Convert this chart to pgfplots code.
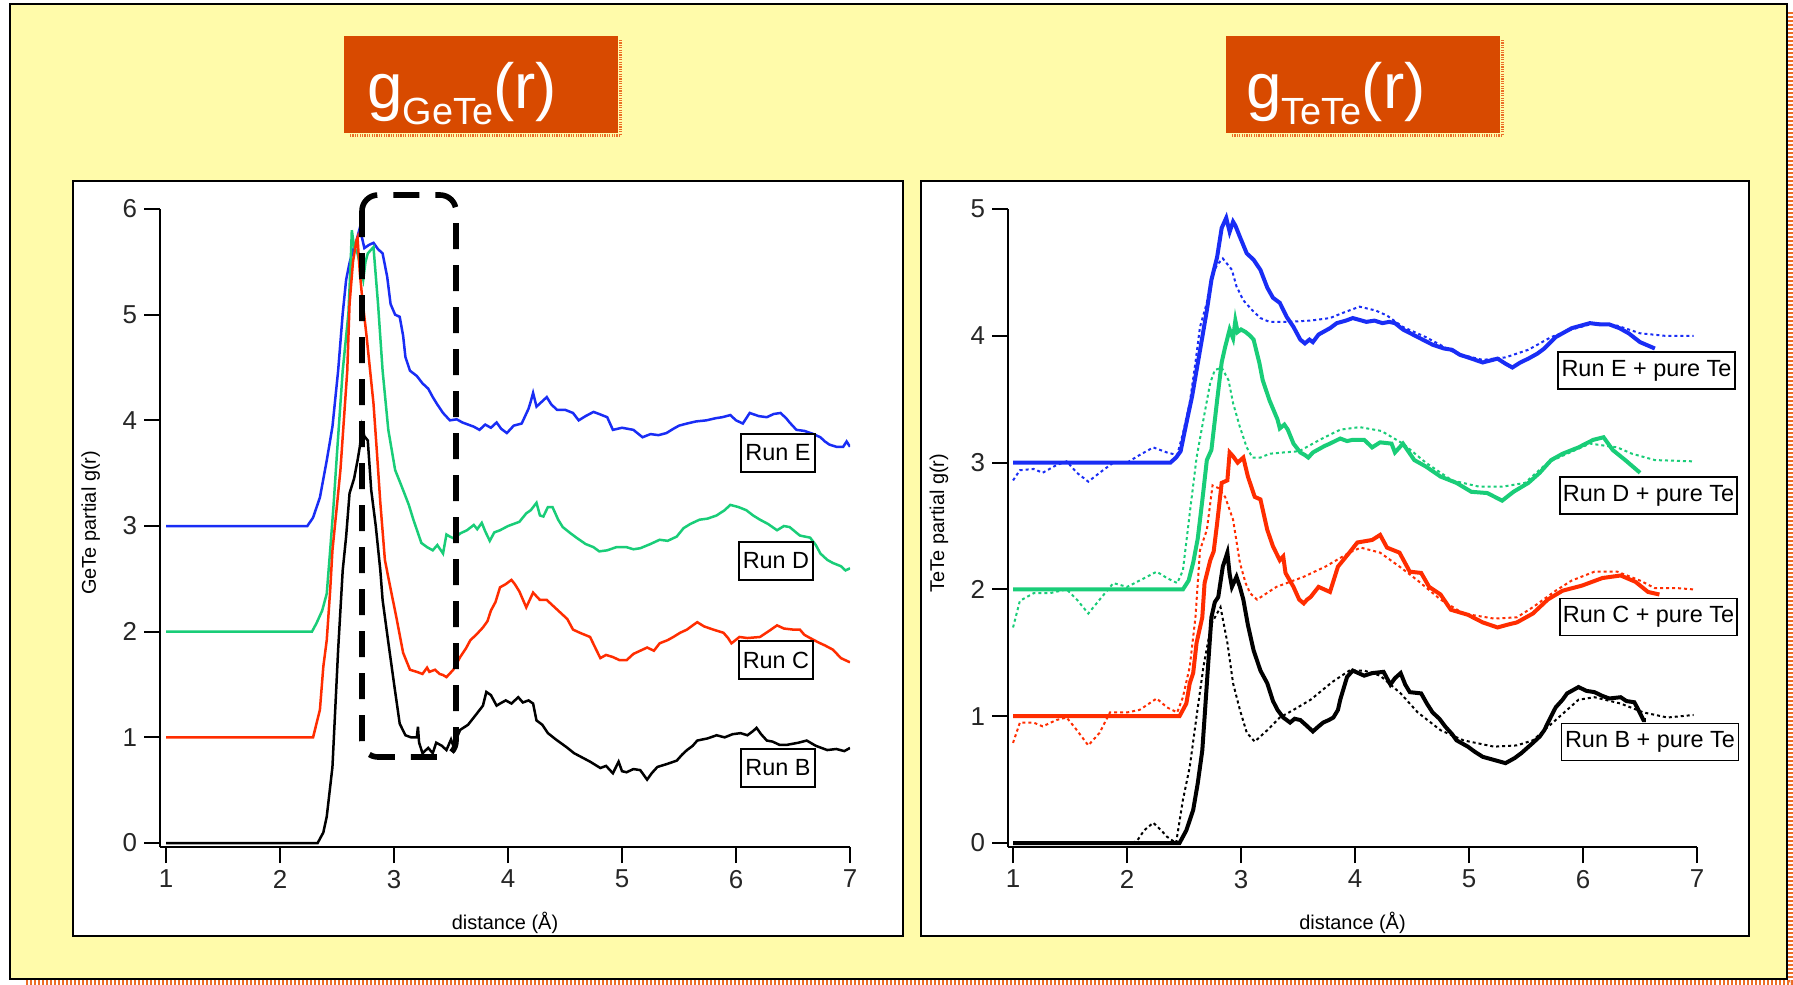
\documentclass[border=0pt]{standalone}
\usepackage{pgfplots}
\pgfplotsset{compat=1.18}
\usepackage{fontspec}
\setmainfont{Liberation Sans}
\definecolor{bgyellow}{RGB}{255,251,170}
\definecolor{titleorange}{RGB}{216,74,0}
\definecolor{shadoworange}{RGB}{235,110,40}
\definecolor{cblue}{RGB}{25,45,245}
\definecolor{cgreen}{RGB}{25,205,120}
\definecolor{cred}{RGB}{255,45,0}
\pgfplotsset{
  gstyle/.style={
    scale only axis, enlargelimits=false,
    axis x line=bottom, axis y line=left,
    axis line style={-, line width=1bp, black},
    xtick={1,2,3,4,5,6,7},
    tick align=outside, major tick length=8bp,
    tick style={line width=1bp, black},
    /pgf/number format/assume math mode=true,
    ticklabel style={font=\fontsize{13}{13}\selectfont, text=black!85},
    label style={font=\fontsize{11}{11}\selectfont},
    every axis x label/.style={at={(axis description cs:0.5,-0.130)}, anchor=base},
    every axis y label/.style={at={(axis description cs:-0.0928,0.508)}, rotate=90, anchor=base},
    xlabel={distance (Å)},
  },
}
\tikzset{legbox/.style={draw, fill=white, line width=0.75bp, inner sep=0pt, font=\fontsize{11.75}{12}\selectfont},
  px/.style={x=0.5bp,y=-0.5bp}}
\begin{document}
\begin{tikzpicture}
\begin{scope}[px]
\useasboundingbox (0,0) rectangle (1793,984);
% outer frame
\draw[shadoworange, line width=2.5bp, dash pattern=on 1bp off 1bp] (1790.5,12) -- (1790.5,982) -- (25,982);
\draw[fill=bgyellow, line width=1bp] (10,4) rectangle (1787,979);
% title boxes
\draw[shadoworange, line width=1.5bp, dash pattern=on 0.6bp off 0.6bp] (620.5,40) -- (620.5,135.5) -- (349,135.5);
\fill[titleorange] (344,36) rectangle (618,133);
\node[anchor=base west, text=white, inner sep=0pt, font=\fontsize{32}{32}\selectfont] at (367,108) {g\raisebox{-8bp}{\fontsize{19}{19}\selectfont GeTe}(r)};
\draw[shadoworange, line width=1.5bp, dash pattern=on 0.6bp off 0.6bp] (1502.5,40) -- (1502.5,135.5) -- (1231,135.5);
\fill[titleorange] (1226,36) rectangle (1500,133);
\node[anchor=base west, text=white, inner sep=0pt, font=\fontsize{32}{32}\selectfont] at (1246,108) {g\raisebox{-8bp}{\fontsize{19}{19}\selectfont TeTe}(r)};
% panels
\draw[fill=white, line width=1bp] (73,181) rectangle (903,936);
\draw[fill=white, line width=1bp] (921,181) rectangle (1749,936);
\end{scope}

% ---------------- left: GeTe ----------------
\begin{axis}[gstyle, at={(80bp,-423.5bp)}, anchor=south west,
  width=345bp, height=319bp,
  xmin=0.9474, xmax=7, ymin=-0.0378, ymax=6,
  ytick={0,1,2,3,4,5,6},
  ylabel={GeTe partial g(r)}]
\addplot[cblue, line width=1.25bp] coordinates {
(1,3) (2.24,3) (2.29,3.08) (2.35,3.27) (2.41,3.62) (2.46,3.94) (2.51,4.47) (2.55,5.01) (2.58,5.33) (2.61,5.49) (2.64,5.61) (2.67,5.7) (2.7,5.82) (2.74,5.63) (2.78,5.66) (2.82,5.68) (2.86,5.62) (2.9,5.58) (2.94,5.36) (2.97,5.1) (3.01,5.0) (3.05,4.98) (3.08,4.8) (3.1,4.6) (3.14,4.47) (3.2,4.42) (3.25,4.35) (3.3,4.3) (3.34,4.22) (3.38,4.15) (3.43,4.07) (3.49,4.0) (3.55,4.01) (3.6,3.98) (3.65,3.96) (3.7,3.94) (3.75,3.91) (3.8,3.96) (3.85,3.93) (3.9,3.98) (3.94,3.92) (3.99,3.88) (4.05,3.95) (4.12,3.97) (4.18,4.11) (4.2,4.18) (4.22,4.26) (4.25,4.13) (4.3,4.18) (4.34,4.22) (4.38,4.15) (4.43,4.1) (4.5,4.1) (4.57,4.07) (4.62,4.0) (4.68,4.04) (4.75,4.08) (4.8,4.06) (4.87,4.03) (4.92,3.91) (5.0,3.93) (5.1,3.91) (5.18,3.84) (5.25,3.87) (5.32,3.86) (5.39,3.88) (5.45,3.92) (5.5,3.95) (5.57,3.97) (5.65,3.99) (5.74,4.0) (5.82,4.02) (5.88,4.03) (5.95,4.05) (6.0,4.0) (6.06,3.97) (6.12,4.07) (6.2,4.04) (6.27,4.03) (6.33,4.06) (6.39,4.07) (6.44,4.02) (6.47,3.98) (6.53,3.91) (6.6,3.9) (6.68,3.87) (6.74,3.84) (6.78,3.8) (6.82,3.77) (6.88,3.75) (6.94,3.75) (6.97,3.8) (7.0,3.75)};
\addplot[cgreen, line width=1.25bp] coordinates {
(1,2) (2.28,2) (2.32,2.08) (2.37,2.2) (2.41,2.36) (2.44,2.77) (2.47,3.2) (2.5,3.69) (2.55,4.47) (2.6,5.01) (2.62,5.5) (2.63,5.8) (2.65,5.64) (2.68,5.58) (2.73,5.33) (2.75,5.5) (2.77,5.58) (2.82,5.64) (2.86,5.1) (2.9,4.47) (2.95,3.91) (3.01,3.53) (3.08,3.34) (3.13,3.2) (3.17,3.06) (3.24,2.84) (3.29,2.8) (3.34,2.77) (3.38,2.82) (3.43,2.74) (3.46,2.92) (3.49,2.9) (3.53,2.88) (3.58,2.93) (3.64,2.96) (3.7,3.01) (3.73,2.97) (3.77,3.03) (3.8,2.95) (3.84,2.86) (3.88,2.94) (3.93,2.96) (4.0,3.0) (4.05,3.02) (4.1,3.04) (4.16,3.12) (4.2,3.15) (4.25,3.22) (4.28,3.1) (4.31,3.09) (4.35,3.18) (4.39,3.18) (4.44,3.06) (4.48,2.99) (4.55,2.93) (4.6,2.89) (4.68,2.83) (4.75,2.8) (4.8,2.76) (4.87,2.77) (4.95,2.8) (5.04,2.8) (5.1,2.78) (5.16,2.79) (5.25,2.83) (5.33,2.87) (5.4,2.86) (5.48,2.9) (5.54,2.98) (5.6,3.02) (5.68,3.06) (5.75,3.07) (5.83,3.1) (5.9,3.15) (5.95,3.2) (6.02,3.18) (6.09,3.15) (6.15,3.1) (6.21,3.06) (6.28,3.02) (6.36,2.96) (6.42,3.0) (6.47,2.99) (6.56,2.91) (6.65,2.89) (6.7,2.82) (6.74,2.74) (6.8,2.68) (6.85,2.65) (6.92,2.62) (6.96,2.58) (7.0,2.6)};
\addplot[cred, line width=1.25bp] coordinates {
(1,1) (2.29,1) (2.35,1.26) (2.38,1.67) (2.41,1.92) (2.44,2.39) (2.46,2.77) (2.5,3.2) (2.53,3.53) (2.56,4.0) (2.59,4.47) (2.61,5.1) (2.64,5.5) (2.67,5.7) (2.68,5.73) (2.7,5.4) (2.72,5.17) (2.76,4.79) (2.82,4.16) (2.85,3.7) (2.88,3.22) (2.92,2.68) (2.96,2.46) (3.02,2.14) (3.08,1.8) (3.14,1.64) (3.2,1.62) (3.25,1.6) (3.29,1.66) (3.31,1.62) (3.36,1.64) (3.4,1.6) (3.43,1.59) (3.46,1.57) (3.52,1.64) (3.58,1.76) (3.63,1.84) (3.67,1.92) (3.72,1.97) (3.78,2.04) (3.82,2.1) (3.85,2.2) (3.89,2.28) (3.93,2.42) (3.98,2.45) (4.03,2.49) (4.06,2.45) (4.1,2.38) (4.16,2.23) (4.19,2.3) (4.22,2.37) (4.28,2.3) (4.34,2.3) (4.4,2.24) (4.46,2.18) (4.52,2.12) (4.57,2.02) (4.63,1.99) (4.72,1.95) (4.76,1.86) (4.81,1.75) (4.86,1.78) (4.92,1.76) (4.98,1.73) (5.04,1.73) (5.1,1.79) (5.16,1.82) (5.22,1.85) (5.28,1.82) (5.33,1.89) (5.4,1.92) (5.45,1.95) (5.51,1.99) (5.57,2.02) (5.62,2.06) (5.66,2.09) (5.72,2.05) (5.8,2.02) (5.89,1.99) (5.93,1.94) (5.96,1.89) (6.03,1.95) (6.1,1.94) (6.21,1.95) (6.28,2.0) (6.36,2.06) (6.42,2.03) (6.5,2.02) (6.56,2.02) (6.6,1.97) (6.65,1.94) (6.72,1.9) (6.78,1.87) (6.85,1.83) (6.92,1.75) (7.0,1.71)};
\addplot[black, line width=1.25bp] coordinates {
(1,0) (2.33,0) (2.38,0.1) (2.41,0.25) (2.46,0.72) (2.51,1.83) (2.55,2.58) (2.58,2.9) (2.61,3.31) (2.65,3.45) (2.68,3.62) (2.7,3.75) (2.72,3.94) (2.74,3.85) (2.77,3.81) (2.8,3.34) (2.84,3.0) (2.88,2.58) (2.9,2.3) (2.95,1.9) (3.0,1.51) (3.05,1.13) (3.1,1.02) (3.15,1.0) (3.2,1.0) (3.21,1.1) (3.22,0.95) (3.25,0.85) (3.3,0.9) (3.34,0.85) (3.37,0.95) (3.42,0.92) (3.46,0.88) (3.5,0.98) (3.52,0.92) (3.58,1.07) (3.65,1.12) (3.73,1.23) (3.78,1.3) (3.81,1.43) (3.85,1.4) (3.9,1.3) (3.93,1.32) (3.98,1.35) (4.03,1.32) (4.09,1.38) (4.13,1.33) (4.18,1.35) (4.22,1.32) (4.25,1.16) (4.3,1.12) (4.35,1.04) (4.42,0.98) (4.51,0.91) (4.58,0.85) (4.65,0.81) (4.72,0.77) (4.81,0.71) (4.86,0.73) (4.92,0.66) (4.97,0.77) (5.0,0.68) (5.04,0.67) (5.1,0.7) (5.16,0.69) (5.22,0.6) (5.26,0.66) (5.31,0.72) (5.4,0.75) (5.48,0.78) (5.53,0.84) (5.57,0.88) (5.62,0.92) (5.66,0.97) (5.75,0.99) (5.83,1.02) (5.9,1.0) (5.97,1.03) (6.04,1.04) (6.1,1.02) (6.15,1.06) (6.18,1.09) (6.22,1.03) (6.27,0.97) (6.32,0.96) (6.38,0.93) (6.45,0.93) (6.55,0.95) (6.62,0.97) (6.7,0.92) (6.8,0.88) (6.88,0.89) (6.95,0.87) (7.0,0.9)};
\end{axis}

% ---------------- right: TeTe ----------------
\begin{axis}[gstyle, at={(504bp,-423.5bp)}, anchor=south west,
  width=344.5bp, height=319bp,
  xmin=0.956, xmax=7, ymin=-0.0315, ymax=5,
  ytick={0,1,2,3,4,5},
  ylabel={TeTe partial g(r)}]
\addplot[cblue, line width=1bp, dash pattern=on 1.5bp off 1.5bp] coordinates {
(1.0,2.86) (1.06,2.94) (1.18,2.95) (1.26,2.92) (1.38,2.98) (1.47,3.01) (1.56,2.92) (1.66,2.85) (1.76,2.92) (1.88,3.0) (2.0,3.0) (2.11,3.06) (2.23,3.12) (2.35,3.08) (2.44,3.06) (2.49,3.23) (2.55,3.47) (2.6,3.79) (2.64,4.07) (2.7,4.26) (2.74,4.47) (2.79,4.56) (2.84,4.61) (2.92,4.52) (2.96,4.39) (3.02,4.28) (3.1,4.2) (3.17,4.14) (3.25,4.11) (3.4,4.11) (3.61,4.12) (3.78,4.14) (3.89,4.18) (4.04,4.23) (4.18,4.2) (4.28,4.16) (4.42,4.07) (4.62,3.99) (4.89,3.86) (5.12,3.81) (5.32,3.83) (5.52,3.89) (5.72,3.99) (5.9,4.05) (6.1,4.1) (6.3,4.08) (6.5,4.02) (6.72,4.0) (6.97,4.0)};
\addplot[cblue, line width=2bp] coordinates {
(1,3) (2.38,3) (2.43,3.04) (2.47,3.09) (2.52,3.31) (2.57,3.52) (2.61,3.73) (2.66,3.99) (2.7,4.2) (2.74,4.44) (2.79,4.62) (2.83,4.85) (2.87,4.93) (2.9,4.82) (2.93,4.9) (2.95,4.87) (2.99,4.78) (3.05,4.65) (3.11,4.6) (3.17,4.52) (3.23,4.38) (3.28,4.3) (3.34,4.26) (3.4,4.15) (3.46,4.07) (3.52,3.97) (3.56,3.94) (3.6,3.97) (3.63,3.95) (3.68,4.01) (3.72,4.03) (3.78,4.06) (3.84,4.1) (3.92,4.12) (3.98,4.14) (4.1,4.11) (4.17,4.12) (4.24,4.1) (4.3,4.11) (4.35,4.1) (4.42,4.05) (4.55,3.99) (4.68,3.93) (4.78,3.9) (4.85,3.89) (4.92,3.85) (4.99,3.83) (5.12,3.79) (5.25,3.82) (5.32,3.78) (5.38,3.75) (5.45,3.79) (5.52,3.82) (5.6,3.86) (5.66,3.9) (5.76,3.99) (5.9,4.06) (6.06,4.1) (6.15,4.09) (6.23,4.09) (6.32,4.06) (6.4,4.02) (6.5,3.95) (6.63,3.9)};
\addplot[cgreen, line width=1bp, dash pattern=on 1.5bp off 1.5bp] coordinates {
(1.0,1.7) (1.06,1.91) (1.18,1.97) (1.32,1.97) (1.47,2.0) (1.56,1.92) (1.66,1.81) (1.76,1.92) (1.88,2.05) (2.0,2.02) (2.11,2.07) (2.26,2.14) (2.35,2.09) (2.44,2.05) (2.49,2.15) (2.55,2.6) (2.61,3.04) (2.67,3.34) (2.73,3.63) (2.77,3.73) (2.83,3.75) (2.89,3.65) (2.93,3.47) (2.99,3.28) (3.05,3.12) (3.1,3.04) (3.17,3.04) (3.25,3.07) (3.37,3.08) (3.51,3.09) (3.69,3.18) (3.87,3.26) (4.04,3.28) (4.23,3.25) (4.42,3.15) (4.62,3.0) (4.85,2.86) (5.09,2.81) (5.29,2.81) (5.49,2.84) (5.69,3.0) (5.86,3.07) (6.06,3.15) (6.3,3.12) (6.43,3.07) (6.63,3.02) (6.97,3.01)};
\addplot[cgreen, line width=2bp] coordinates {
(1,2) (2.49,2) (2.54,2.07) (2.58,2.21) (2.62,2.4) (2.66,2.7) (2.7,3.02) (2.74,3.1) (2.79,3.49) (2.83,3.79) (2.86,3.91) (2.9,4.05) (2.93,3.98) (2.95,4.12) (2.97,4.03) (3.0,4.05) (3.04,4.03) (3.08,4.0) (3.11,3.97) (3.16,3.79) (3.19,3.65) (3.25,3.49) (3.32,3.34) (3.34,3.27) (3.38,3.3) (3.41,3.26) (3.46,3.15) (3.52,3.08) (3.56,3.06) (3.59,3.04) (3.63,3.08) (3.67,3.1) (3.73,3.13) (3.78,3.15) (3.87,3.19) (3.93,3.17) (3.98,3.18) (4.08,3.18) (4.15,3.12) (4.22,3.16) (4.32,3.15) (4.35,3.08) (4.42,3.15) (4.52,3.02) (4.62,2.97) (4.75,2.89) (4.89,2.84) (5.02,2.77) (5.16,2.76) (5.29,2.7) (5.39,2.77) (5.52,2.84) (5.62,2.92) (5.72,3.02) (5.82,3.07) (5.96,3.12) (6.09,3.18) (6.18,3.2) (6.26,3.1) (6.37,3.02) (6.5,2.92)};
\addplot[cred, line width=1bp, dash pattern=on 1.5bp off 1.5bp] coordinates {
(1.0,0.79) (1.06,0.95) (1.18,0.95) (1.26,0.92) (1.38,0.97) (1.47,0.99) (1.56,0.89) (1.66,0.77) (1.76,0.87) (1.85,1.03) (2.0,1.03) (2.11,1.05) (2.26,1.14) (2.35,1.07) (2.44,1.03) (2.49,1.15) (2.55,1.39) (2.6,1.78) (2.64,2.31) (2.7,2.47) (2.75,2.82) (2.8,2.8) (2.86,2.73) (2.93,2.55) (2.99,2.21) (3.04,2.05) (3.08,1.97) (3.14,1.92) (3.31,2.02) (3.55,2.1) (3.74,2.18) (3.95,2.29) (4.05,2.33) (4.22,2.29) (4.39,2.18) (4.55,2.07) (4.75,1.92) (4.95,1.81) (5.22,1.77) (5.42,1.78) (5.56,1.86) (5.76,1.99) (5.9,2.07) (6.1,2.14) (6.3,2.14) (6.5,2.07) (6.63,2.01) (6.83,2.01) (6.97,2.0)};
\addplot[cred, line width=2bp] coordinates {
(1,1) (2.46,1) (2.52,1.1) (2.55,1.26) (2.58,1.34) (2.61,1.58) (2.66,1.78) (2.68,2.05) (2.73,2.23) (2.76,2.3) (2.79,2.52) (2.83,2.84) (2.88,2.86) (2.9,3.08) (2.93,3.05) (2.97,3.0) (3.02,3.04) (3.06,2.89) (3.12,2.73) (3.17,2.71) (3.23,2.47) (3.28,2.34) (3.34,2.23) (3.37,2.26) (3.39,2.13) (3.46,2.02) (3.51,1.92) (3.55,1.89) (3.58,1.92) (3.61,1.94) (3.68,2.02) (3.73,2.0) (3.78,1.98) (3.85,2.18) (3.95,2.29) (4.02,2.37) (4.15,2.39) (4.22,2.43) (4.28,2.33) (4.39,2.29) (4.48,2.14) (4.58,2.13) (4.65,2.02) (4.75,1.96) (4.84,1.84) (4.99,1.8) (5.12,1.74) (5.25,1.7) (5.33,1.72) (5.42,1.74) (5.56,1.81) (5.69,1.92) (5.82,1.99) (5.99,2.03) (6.17,2.09) (6.33,2.11) (6.46,2.06) (6.57,1.98) (6.67,1.96)};
\addplot[black, line width=1bp, dash pattern=on 1.5bp off 1.5bp] coordinates {
(2.05,0) (2.09,0.02) (2.15,0.1) (2.23,0.16) (2.3,0.1) (2.35,0.05) (2.43,0.0) (2.49,0.34) (2.55,0.6) (2.61,1.0) (2.67,1.39) (2.74,1.73) (2.82,1.86) (2.88,1.58) (2.93,1.26) (2.99,1.05) (3.05,0.87) (3.12,0.8) (3.23,0.89) (3.34,0.99) (3.46,1.05) (3.61,1.13) (3.8,1.27) (3.95,1.36) (4.08,1.36) (4.22,1.32) (4.4,1.18) (4.55,1.03) (4.75,0.89) (4.95,0.81) (5.22,0.76) (5.42,0.77) (5.56,0.81) (5.76,0.97) (5.96,1.13) (6.1,1.15) (6.33,1.1) (6.53,1.03) (6.74,0.99) (6.97,1.01)};
\addplot[black, line width=2bp] coordinates {
(1,0) (2.46,0) (2.52,0.1) (2.58,0.26) (2.62,0.47) (2.66,0.73) (2.68,0.99) (2.71,1.39) (2.74,1.78) (2.77,1.9) (2.8,1.94) (2.84,2.18) (2.88,2.29) (2.9,2.12) (2.92,2.02) (2.96,2.1) (2.99,2.02) (3.02,1.92) (3.06,1.72) (3.11,1.52) (3.17,1.36) (3.23,1.26) (3.28,1.12) (3.32,1.05) (3.37,0.99) (3.43,0.95) (3.47,0.98) (3.52,0.97) (3.57,0.93) (3.63,0.88) (3.68,0.92) (3.72,0.95) (3.77,0.97) (3.81,0.99) (3.85,1.05) (3.87,1.13) (3.9,1.22) (3.93,1.31) (3.98,1.36) (4.03,1.34) (4.08,1.32) (4.15,1.34) (4.25,1.35) (4.31,1.25) (4.35,1.3) (4.4,1.34) (4.44,1.25) (4.48,1.19) (4.58,1.18) (4.63,1.1) (4.68,1.03) (4.74,0.98) (4.79,0.92) (4.85,0.86) (4.89,0.81) (4.99,0.76) (5.05,0.72) (5.12,0.68) (5.2,0.66) (5.32,0.63) (5.4,0.67) (5.46,0.71) (5.56,0.79) (5.62,0.84) (5.66,0.89) (5.72,1.0) (5.76,1.07) (5.82,1.13) (5.86,1.18) (5.96,1.23) (6.03,1.2) (6.1,1.19) (6.17,1.16) (6.23,1.14) (6.33,1.15) (6.38,1.12) (6.45,1.11) (6.48,1.06) (6.53,0.97) (6.55,0.97)};
\end{axis}

\begin{scope}[px]
% dashed highlight box (left panel)
\draw[line width=2.8bp, dash pattern=on 13bp off 8bp, rounded corners=8bp] (362,195) rectangle (456,757);
% left labels
\node[legbox, minimum width=37bp, minimum height=19bp] at (778,453) {Run E};
\node[legbox, minimum width=37bp, minimum height=19bp] at (776,561) {Run D};
\node[legbox, minimum width=37bp, minimum height=19bp] at (776,660) {Run C};
\node[legbox, minimum width=37bp, minimum height=19bp] at (778,768) {Run B};
% right labels
\node[legbox, minimum width=88.5bp, minimum height=18.5bp] at (1646.5,370.5) {Run E + pure Te};
\node[legbox, minimum width=88.5bp, minimum height=18.5bp] at (1648.5,495.5) {Run D + pure Te};
\node[legbox, minimum width=88.5bp, minimum height=18.5bp] at (1648.5,617) {Run C + pure Te};
\node[legbox, minimum width=88.5bp, minimum height=18.5bp] at (1650,742) {Run B + pure Te};
\end{scope}
\end{tikzpicture}
\end{document}
